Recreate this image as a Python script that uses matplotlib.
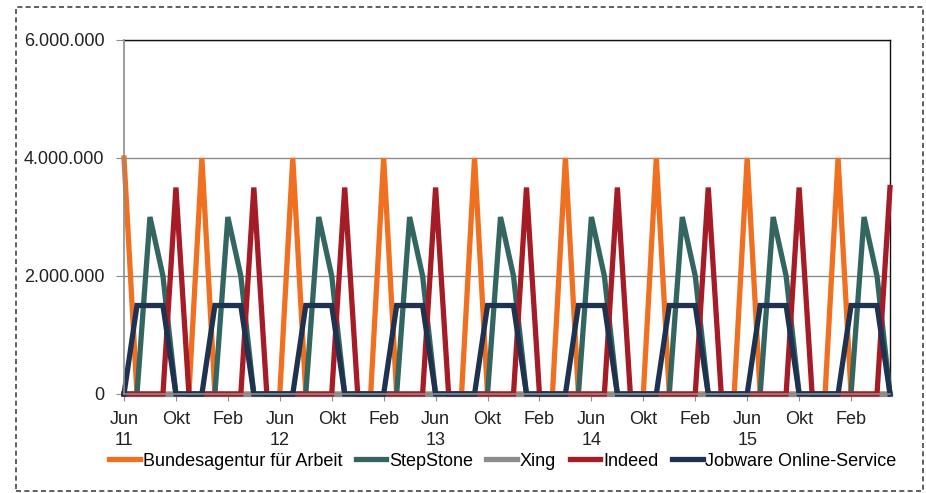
import matplotlib
matplotlib.use('Agg')
from matplotlib import pyplot as plt
from matplotlib.patches import Rectangle
from matplotlib.ticker import FuncFormatter

plt.rcParams['font.family'] = ['Liberation Sans', 'DejaVu Sans']

# monthly values, Jun 2011 .. May 2016 (60 months)
bundesagentur = [
    4000000, 0, 0, 0, 0, 0,
    4000000, 0, 0, 0, 0, 0, 0,
    4000000, 0, 0, 0, 0, 0, 0,
    4000000, 0, 0, 0, 0, 0, 0,
    4000000, 0, 0, 0, 0, 0, 0,
    4000000, 0, 0, 0, 0, 0, 0,
    4000000, 0, 0, 0, 0, 0, 0,
    4000000, 0, 0, 0, 0, 0, 0,
    4000000, 0, 0, 0, 0,
]
stepstone = [
    0, 0, 3000000, 2000000, 0, 0,
    0, 0, 3000000, 2000000, 0, 0, 0,
    0, 0, 3000000, 2000000, 0, 0, 0,
    0, 0, 3000000, 2000000, 0, 0, 0,
    0, 0, 3000000, 2000000, 0, 0, 0,
    0, 0, 3000000, 2000000, 0, 0, 0,
    0, 0, 3000000, 2000000, 0, 0, 0,
    0, 0, 3000000, 2000000, 0, 0, 0,
    0, 0, 3000000, 2000000, 0,
]
xing = [0] * 60
indeed = [
    0, 0, 0, 0, 3500000, 0,
    0, 0, 0, 0, 3500000, 0, 0,
    0, 0, 0, 0, 3500000, 0, 0,
    0, 0, 0, 0, 3500000, 0, 0,
    0, 0, 0, 0, 3500000, 0, 0,
    0, 0, 0, 0, 3500000, 0, 0,
    0, 0, 0, 0, 3500000, 0, 0,
    0, 0, 0, 0, 3500000, 0, 0,
    0, 0, 0, 0, 3500000,
]
jobware = [
    0, 1500000, 1500000, 1500000, 0, 0,
    0, 1500000, 1500000, 1500000, 0, 0, 0,
    0, 1500000, 1500000, 1500000, 0, 0, 0,
    0, 1500000, 1500000, 1500000, 0, 0, 0,
    0, 1500000, 1500000, 1500000, 0, 0, 0,
    0, 1500000, 1500000, 1500000, 0, 0, 0,
    0, 1500000, 1500000, 1500000, 0, 0, 0,
    0, 1500000, 1500000, 1500000, 0, 0, 0,
    0, 1500000, 1500000, 1500000, 0,
]
tick_labels = ['Jun\n11', 'Okt', 'Feb', 'Jun\n12', 'Okt', 'Feb', 'Jun\n13', 'Okt',
               'Feb', 'Jun\n14', 'Okt', 'Feb', 'Jun\n15', 'Okt', 'Feb']

series = [
    ('Bundesagentur für Arbeit', bundesagentur, '#F07022'),
    ('StepStone', stepstone, '#336660'),
    ('Xing', xing, '#8C8C8C'),
    ('Indeed', indeed, '#A51C26'),
    ('Jobware Online-Service', jobware, '#1F3350'),
]

fig = plt.figure(figsize=(9.26, 4.93), dpi=100)
ax = fig.add_axes([124 / 926, 1 - 394 / 493, (890 - 124) / 926, (394 - 40) / 493])

months = list(range(len(bundesagentur)))
for i, (name, vals, col) in enumerate(series):
    ax.plot(months, vals, color=col, lw=3.8, label=name, zorder=3 + i,
            solid_joinstyle='miter', clip_on=False)

ax.set_xlim(0, 59)
ax.set_ylim(0, 6000000)
ax.set_yticks([0, 2000000, 4000000, 6000000])
ax.yaxis.set_major_formatter(FuncFormatter(lambda v, p: f'{int(v):,}'.replace(',', '.')))
ax.set_xticks(list(range(0, 57, 4)))
ax.set_xticklabels(tick_labels, linespacing=1.3)

ax.grid(axis='y', color='#8C8C8C', lw=1)
ax.set_axisbelow(True)
for s in ['top', 'right']:
    ax.spines[s].set_color('#111111')
    ax.spines[s].set_linewidth(1)
for s in ['left', 'bottom']:
    ax.spines[s].set_color('#8C8C8C')
    ax.spines[s].set_linewidth(1.2)
    ax.spines[s].set_zorder(10)
ax.tick_params(axis='y', length=6, color='#8C8C8C', pad=8, labelsize=13, labelcolor='#222222')
ax.tick_params(axis='x', length=5, color='#8C8C8C', pad=7, labelsize=13, labelcolor='#222222')

fig.legend(loc='center', bbox_to_anchor=(0.543, 1 - 461 / 493), ncol=5, frameon=False,
           fontsize=13, handlelength=1.7, handletextpad=0.15, columnspacing=0.75,
           borderpad=0, borderaxespad=0)

fig.patches.append(Rectangle((16 / 926, 1 - 491 / 493), (923 - 16) / 926, (491 - 7) / 493,
                             transform=fig.transFigure, fill=False, edgecolor='#444444',
                             lw=1.2, linestyle=(0, (3, 2))))

plt.savefig('out.png', dpi=100)
